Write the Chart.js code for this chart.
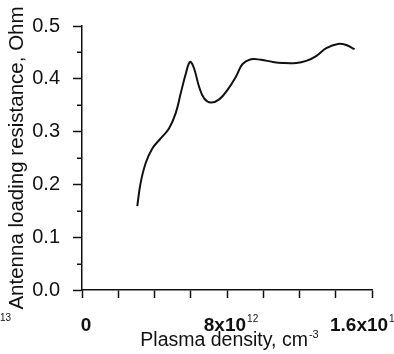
<!DOCTYPE html>
<html>
<head>
<meta charset="utf-8">
<script src="https://cdn.jsdelivr.net/npm/chart.js@4"></script>
<style>
  html, body { margin: 0; padding: 0; background: #fff; }
</style>
</head>
<body>
<canvas id="chart" width="394" height="354"></canvas>
<script>
// plasma density in units of 1e12 cm^-3
const density = [3.05, 3.23, 3.51, 3.88, 4.34, 4.80, 5.17, 5.45, 5.73, 5.96,
  6.18, 6.46, 6.74, 7.11, 7.57, 8.03, 8.49, 8.86, 9.32,
  9.88, 10.52, 11.07, 11.82, 12.37, 12.92, 13.48, 14.12, 14.58, 15.04];
// antenna loading resistance, Ohm
const resistance = [0.159, 0.202, 0.240, 0.268, 0.287, 0.306, 0.335, 0.373, 0.410, 0.432,
  0.420, 0.385, 0.363, 0.355, 0.361, 0.379, 0.404, 0.428, 0.437,
  0.436, 0.432, 0.430, 0.430, 0.434, 0.443, 0.458, 0.466, 0.464, 0.456];

const xTickValues = [0, 8, 16];
const xTickText = ["0", "8x10", "1.6x10"];
const xTickPower = ["", "12", "13"];
const yMinorTicks = [0.05, 0.15, 0.25, 0.35, 0.45];

const FONT = "'Liberation Sans', Arial, sans-serif";
const INK = "#111";

// superscripted labels and minor ticks are drawn by hand
const axisText = {
  id: "axisText",
  afterDraw(chart) {
    const ctx = chart.ctx;
    const xs = chart.scales.x;
    const ys = chart.scales.y;
    const area = chart.chartArea;
    ctx.save();
    ctx.fillStyle = INK;
    ctx.strokeStyle = INK;
    ctx.lineWidth = 1.5;

    yMinorTicks.forEach((v) => {
      const py = Math.round(ys.getPixelForValue(v)) + 0.25;
      ctx.beginPath();
      ctx.moveTo(area.left - 5, py);
      ctx.lineTo(area.left, py);
      ctx.stroke();
    });

    ctx.textBaseline = "alphabetic";
    ctx.textAlign = "left";
    xTickValues.forEach((v, i) => {
      const px = xs.getPixelForValue(v);
      ctx.font = "bold 19px " + FONT;
      const w1 = ctx.measureText(xTickText[i]).width;
      ctx.font = "10px " + FONT;
      const w2 = xTickPower[i] ? ctx.measureText(xTickPower[i]).width + 1 : 0;
      const w = w1 + w2;
      let x0 = px - w / 2 + 4;
      if (x0 + w > chart.width - 2) x0 = px - 42;
      ctx.font = "bold 19px " + FONT;
      ctx.fillText(xTickText[i], x0, 331);
      if (xTickPower[i]) {
        ctx.font = "10px " + FONT;
        ctx.fillText(xTickPower[i], x0 + w1 + 1, 322);
      }
    });
    // stray exponent at the left edge of the original figure
    ctx.font = "10px " + FONT;
    ctx.fillText("13", 0, 321);

    // x axis title
    const title = "Plasma density, cm";
    ctx.font = "19.5px " + FONT;
    const tw = ctx.measureText(title).width;
    ctx.font = "11px " + FONT;
    const sw = ctx.measureText("-3").width;
    const cx = (area.left + area.right) / 2 + 2;
    const tx = cx - (tw + sw) / 2;
    ctx.font = "19.5px " + FONT;
    ctx.fillText(title, tx, 346);
    ctx.font = "11px " + FONT;
    ctx.fillText("-3", tx + tw + 1, 338);
    ctx.restore();
  }
};

new Chart(document.getElementById("chart"), {
  type: "scatter",
  data: {
    datasets: [{
      data: density.map((d, i) => ({ x: d, y: resistance[i] })),
      showLine: true,
      borderColor: INK,
      borderWidth: 2,
      pointRadius: 0,
      tension: 0.4,
      fill: false
    }]
  },
  options: {
    responsive: false,
    animation: false,
    layout: { padding: { top: 26, right: 22, left: 0, bottom: 0 } },
    plugins: { legend: { display: false }, tooltip: { enabled: false } },
    scales: {
      x: {
        type: "linear",
        min: 0,
        max: 16,
        afterFit(scale) { scale.height = 64; },
        ticks: { display: false, stepSize: 2 },
        grid: { drawOnChartArea: false, tickLength: 8, tickColor: INK, tickWidth: 1.5 },
        border: { display: true, color: INK, width: 1.5 }
      },
      y: {
        min: 0,
        max: 0.5,
        afterFit(scale) { scale.width = 82; },
        ticks: {
          stepSize: 0.1,
          padding: 13,
          color: INK,
          font: { family: FONT, size: 20 },
          callback: (v) => v.toFixed(1)
        },
        grid: { drawOnChartArea: false, tickLength: 9, tickColor: INK, tickWidth: 1.5 },
        border: { display: true, color: INK, width: 1.5 },
        title: {
          display: true,
          text: "Antenna loading resistance, Ohm",
          color: INK,
          font: { family: FONT, size: 20.5 },
          padding: { top: 5, bottom: 0 }
        }
      }
    }
  },
  plugins: [axisText]
});
</script>
</body>
</html>
